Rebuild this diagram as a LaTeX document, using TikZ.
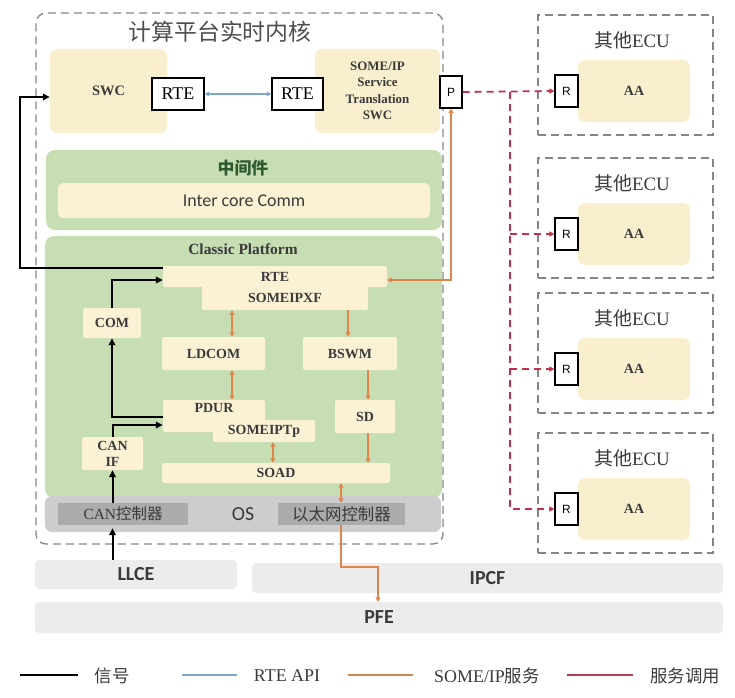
\documentclass[tikz,border=0pt]{standalone}
\usepackage{fontspec}
\setmainfont{Liberation Serif}
\newfontfamily\cjk{Noto Sans CJK SC}
\newfontfamily\calfont{Carlito}
\newfontfamily\arialfont{Liberation Sans}
\usetikzlibrary{calc,arrows.meta}
\newcommand\myfs[2]{\fontsize{#1}{#2}\selectfont}
\definecolor{yel}{HTML}{F9EFCF}
\definecolor{yel2}{HTML}{FBF2D6}
\definecolor{grn}{HTML}{C7DDB4}
\definecolor{osgray}{HTML}{CDCDCD}
\definecolor{ctlgray}{HTML}{ABABAB}
\definecolor{band}{HTML}{ECECEC}
\definecolor{dgray}{HTML}{858585}
\definecolor{orn}{HTML}{E0864A}
\definecolor{svcred}{HTML}{C4304C}
\definecolor{apiblue}{HTML}{7AA6CE}
\definecolor{tgray}{HTML}{3A3A3A}
\definecolor{dgreen}{HTML}{2F5A2F}
\begin{document}
\begin{tikzpicture}[x=1bp,y=-1bp,
  dashbox/.style={draw=dgray,line width=1.3bp,dash pattern=on 8bp off 5bp,inner sep=0},
  ybox/.style={fill=yel,rounded corners=7bp,inner sep=0},
  cbox/.style={fill=yel2,rounded corners=2bp,inner sep=0,font=\bfseries\myfs{14}{17},text=tgray},
  wbox/.style={fill=white,draw=black,line width=1.2bp,inner sep=0},
  grnbox/.style={fill=grn,rounded corners=9bp,inner sep=0},
  ctl/.style={fill=ctlgray,inner sep=0,text=tgray},
  bandbox/.style={fill=band,rounded corners=4bp,inner sep=0,font=\calfont\bfseries\myfs{20}{20},text=tgray},
  sig/.style={draw=black,line width=2bp,-{Triangle[length=7bp,width=6.5bp]}},
  ora/.style={draw=orn,line width=1.6bp},
  otip/.style={-{Triangle[length=4.5bp,width=5bp]}},
  otips/.style={{Triangle[length=4.5bp,width=5bp]}-{Triangle[length=4.5bp,width=5bp]}},
  svc/.style={draw=svcred,line width=1.8bp,dash pattern=on 7bp off 5bp,-{Triangle[length=5bp,width=5bp]}},
  api/.style={draw=apiblue,line width=1.5bp,{Triangle[length=4.5bp,width=4.5bp]}-{Triangle[length=4.5bp,width=4.5bp]}},
  leg/.style={font=\myfs{18}{18},text=tgray}
]
\useasboundingbox (0,0) rectangle (735,698);

% ---------- main core box ----------
\node[dashbox,rounded corners=10bp,minimum width=407bp,minimum height=531bp] (core) at (239.5,278.5) {};
\node[font=\cjk\myfs{23}{23},text=tgray!90] (title) at (220,32) {计算平台实时内核};

% top row
\node[ybox,minimum width=117bp,minimum height=84bp,font=\bfseries\myfs{14.5}{16},text=tgray] (swc) at (108.5,91) {SWC};
\node[ybox,minimum width=125bp,minimum height=84bp,align=center,font=\bfseries\myfs{13}{16.5},text=tgray] (sswc) at (377.5,91) {SOME/IP\\Service\\Translation\\SWC};
\node[wbox,minimum width=52bp,minimum height=32bp,font=\myfs{18}{18}] (rtel) at (178,94) {RTE};
\node[wbox,minimum width=51bp,minimum height=32bp,font=\myfs{18}{18}] (rter) at (297.5,94) {RTE};
\node[wbox,minimum width=22bp,minimum height=32bp,font=\arialfont\myfs{12}{12}] (p) at (451,92) {P};

% middleware
\node[grnbox,minimum width=396bp,minimum height=80bp] (mw) at (244,190) {};
\node[font=\cjk\bfseries\myfs{17}{17},text=dgreen] (mwt) at (243,168) {中间件};
\node[fill=yel2,rounded corners=5bp,inner sep=0,minimum width=372bp,minimum height=35bp,font=\calfont\myfs{18}{18},text=tgray] (icc) at (244,200.5) {Inter core Comm};

% classic platform
\node[grnbox,minimum width=397bp,minimum height=262bp] (cp) at (243.5,367) {};
\node[font=\bfseries\myfs{15.5}{15.5},text=tgray] (cpt) at (243,249) {Classic Platform};
\node[fill=osgray,rounded corners=7bp,inner sep=0,minimum width=396bp,minimum height=36bp] (os) at (243,514) {};
\node[font=\calfont\myfs{20}{20},text=tgray] (ost) at (243,514) {OS};
\node[ctl,minimum width=130bp,minimum height=22bp,font=\myfs{15.5}{15.5}] (canc) at (123,514) {CAN{\cjk 控制器}};
\node[ctl,minimum width=127bp,minimum height=22bp,font=\cjk\myfs{16.5}{16.5}] (ethc) at (341.5,514) {以太网控制器};

\node[cbox,minimum width=166bp,minimum height=25bp] (xf) at (285,297.5) {SOMEIPXF};
\node[cbox,minimum width=224bp,minimum height=21bp] (rteb) at (275,276.5) {RTE};
\node[cbox,minimum width=58bp,minimum height=30bp] (com) at (112,323) {COM};
\node[cbox,minimum width=103bp,minimum height=33bp] (ldcom) at (213.5,353.5) {LDCOM};
\node[cbox,minimum width=94bp,minimum height=33bp] (bswm) at (350,353.5) {BSWM};
\node[cbox,minimum width=102bp,minimum height=32bp] (pdur) at (214,416) {};
\node[font=\bfseries\myfs{14}{14},text=tgray] (pdurt) at (214,408) {PDUR};
\node[cbox,minimum width=102bp,minimum height=22bp] (tp) at (264,431) {SOMEIPTp};
\node[cbox,minimum width=60bp,minimum height=33bp] (sd) at (365,416.5) {SD};
\node[cbox,minimum width=61bp,minimum height=33bp,align=center,font=\bfseries\myfs{14}{16}] (canif) at (112.5,453.5) {CAN\\IF};
\node[cbox,minimum width=228bp,minimum height=20bp] (soad) at (276,473) {SOAD};

% bottom bands
\node[bandbox,minimum width=202bp,minimum height=29bp] (llce) at (136,574.5) {LLCE};
\node[bandbox,minimum width=471bp,minimum height=30bp] (ipcf) at (487.5,578) {IPCF};
\node[bandbox,minimum width=688bp,minimum height=31bp] (pfe) at (379,617.5) {PFE};

% ECUs
\foreach \i/\t in {1/15,2/158,3/293,4/433}{
  \node[dashbox,minimum width=175bp,minimum height=120bp] (ecu\i) at (625.5,\t+60) {};
  \node[font=\myfs{19}{19},text=tgray] (ecut\i) at (632,\t+25) {{\cjk 其他}ECU};
  \node[ybox,minimum width=112bp,minimum height=62bp,font=\bfseries\myfs{14}{14},text=tgray] (aa\i) at (634,\t+76) {AA};
  \node[wbox,fill=white,minimum width=23bp,minimum height=32bp,font=\arialfont\myfs{12}{12}] (r\i) at (566.5,\t+76) {R};
}

% ---------- connectors ----------
\draw[api] (rtel.east) -- (rter.west);

\coordinate (lx) at (20,0);
\coordinate (sw) at ([yshift=-6bp]swc.west);
\draw[sig] ([yshift=-2bp]rteb.north west) -| (lx |- sw) -- (sw);
\draw[sig] (com.north) |- ([yshift=-3.5bp]rteb.west);
\draw[sig] ([yshift=-1bp]pdur.west) -| (com.south);
\draw[sig] (canif.north) |- ([yshift=-9bp]pdur.west);
\draw[sig] (canif.south |- canc.north) -- (canif.south);
\coordinate (c6) at (canif.south |- canc.south);
\draw[sig] (canif.south |- llce.north) -- ([yshift=-3bp]c6);

\coordinate (xa) at (232,0);
\coordinate (xb) at (273,0);
\coordinate (xc) at (348,0);
\coordinate (xd) at (368,0);
\coordinate (xe) at (341,0);
\coordinate (kink) at (378,567);
\draw[ora,otips] (xf.south -| xa) -- (ldcom.north -| xa);
\draw[ora,otips] (ldcom.south -| xa) -- (pdur.north -| xa);
\draw[ora,otips] (tp.south -| xb) -- (soad.north -| xb);
\draw[ora,otip] (xf.south -| xc) -- (bswm.north -| xc);
\draw[ora,otip] (bswm.south -| xd) -- (sd.north -| xd);
\draw[ora,otip] (sd.south -| xd) -- (soad.north -| xd);
\draw[ora,otips] (soad.south -| xe) -- (ethc.north -| xe);
\draw[ora,otip] (ethc.south -| xe) |- (kink) -- (kink |- pfe.north);
\draw[ora,otips] ([yshift=-3.5bp]rteb.east) -| (p.south);

\coordinate (jx) at (510,0);
\draw[svc] (p.east) -- (r1.west);
\draw[svc] (p.east -| jx) |- (r4.west);
\draw[svc] (r2.west -| jx) -- (r2.west);
\draw[svc] (r3.west -| jx) -- (r3.west);

% ---------- legend ----------
\coordinate (l1a) at (20,675); \coordinate (l1b) at (78,675);
\coordinate (l2a) at (182,675); \coordinate (l2b) at (237,675);
\coordinate (l3a) at (348,675); \coordinate (l3b) at (413,675);
\coordinate (l4a) at (567,675); \coordinate (l4b) at (633,675);
\draw[black,line width=2.2bp] (l1a) -- (l1b);
\draw[apiblue,line width=2.2bp] (l2a) -- (l2b);
\draw[orn!80!gray,line width=2.2bp] (l3a) -- (l3b);
\draw[svcred!85!gray,line width=2.2bp] (l4a) -- (l4b);
\node[leg,font=\cjk\myfs{17.5}{17.5}] (lt1) at (112,676) {信号};
\node[leg] (lt2) at (287,676) {RTE API};
\node[leg] (lt3) at (487,676) {SOME/IP{\cjk\myfs{17.5}{17.5}服务}};
\node[leg,font=\cjk\myfs{17.5}{17.5}] (lt4) at (685,676) {服务调用};
\end{tikzpicture}
\end{document}
